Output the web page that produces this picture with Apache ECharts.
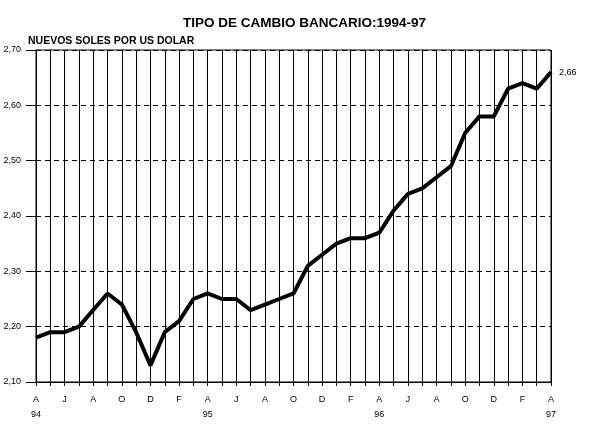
<!DOCTYPE html>
<html>
<head>
<meta charset="utf-8">
<script src="https://cdn.jsdelivr.net/npm/echarts@6/dist/echarts.min.js"></script>
<style>
  html, body { margin: 0; padding: 0; background: #fff; }
  #chart { width: 596px; height: 428px; }
</style>
</head>
<body>
<div id="chart"></div>
<script>
// monthly, Apr 1994 .. Apr 1997 (Spanish month initials)
const months = ['A','M','J','J','A','S','O','N','D','E','F','M',
                'A','M','J','J','A','S','O','N','D','E','F','M',
                'A','M','J','J','A','S','O','N','D','E','F','M',
                'A']
const years = ['94','','','','','','','','','','','',
               '95','','','','','','','','','','','',
               '96','','','','','','','','','','','',
               '97']
const rates = [2.18, 2.19, 2.19, 2.20, 2.23, 2.26, 2.24, 2.19, 2.13, 2.19, 2.21, 2.25,
               2.26, 2.25, 2.25, 2.23, 2.24, 2.25, 2.26, 2.31, 2.33, 2.35, 2.36, 2.36,
               2.37, 2.41, 2.44, 2.45, 2.47, 2.49, 2.55, 2.58, 2.58, 2.63, 2.64, 2.63,
               2.66]

const comma = v => v.toFixed(2).replace('.', ',')
const chart = echarts.init(document.getElementById('chart'))

chart.setOption({
  animation: false,
  title: [
    {
      text: 'TIPO DE CAMBIO BANCARIO:1994-97',
      left: 183,
      top: 16,
      padding: 0,
      textStyle: { fontFamily: 'Liberation Sans, Arial', fontSize: 13.5, fontWeight: 'bold', color: '#000' }
    },
    {
      text: 'NUEVOS SOLES POR US DOLAR',
      left: 28,
      top: 36,
      padding: 0,
      textStyle: { fontFamily: 'Liberation Sans, Arial', fontSize: 10.5, fontWeight: 'bold', color: '#000' }
    }
  ],
  grid: {
    left: 36, right: 45, top: 50, bottom: 46,
    show: true, borderColor: '#000', borderWidth: 1
  },
  xAxis: {
    type: 'category',
    data: months,
    boundaryGap: false,
    axisLine: { lineStyle: { color: '#000', width: 1 } },
    axisTick: { show: true, interval: 0, length: 4, lineStyle: { color: '#000' } },
    splitLine: { show: true, interval: 0, lineStyle: { color: '#000', width: 1 } },
    axisLabel: {
      interval: 1,
      margin: 10,
      color: '#000',
      fontFamily: 'Liberation Sans, Arial',
      fontSize: 9,
      lineHeight: 15,
      formatter: (v, i) => years[i] ? v + '\n' + years[i] : v
    }
  },
  yAxis: {
    type: 'value',
    min: 2.1,
    max: 2.7,
    interval: 0.1,
    axisLine: { show: true, lineStyle: { color: '#000' } },
    axisTick: { show: true, length: 10, lineStyle: { color: '#000' } },
    splitLine: { show: true, lineStyle: { color: '#000', width: 1, type: [5, 4] } },
    axisLabel: {
      margin: 15,
      color: '#000',
      fontFamily: 'Liberation Sans, Arial',
      fontSize: 9,
      formatter: v => comma(v)
    }
  },
  series: [{
    type: 'line',
    data: rates,
    showSymbol: false,
    lineStyle: { color: '#000', width: 4 },
    endLabel: {
      show: true,
      distance: 8,
      color: '#000',
      fontFamily: 'Liberation Sans, Arial',
      fontSize: 9,
      formatter: p => comma(p.value)
    }
  }]
})
</script>
</body>
</html>
